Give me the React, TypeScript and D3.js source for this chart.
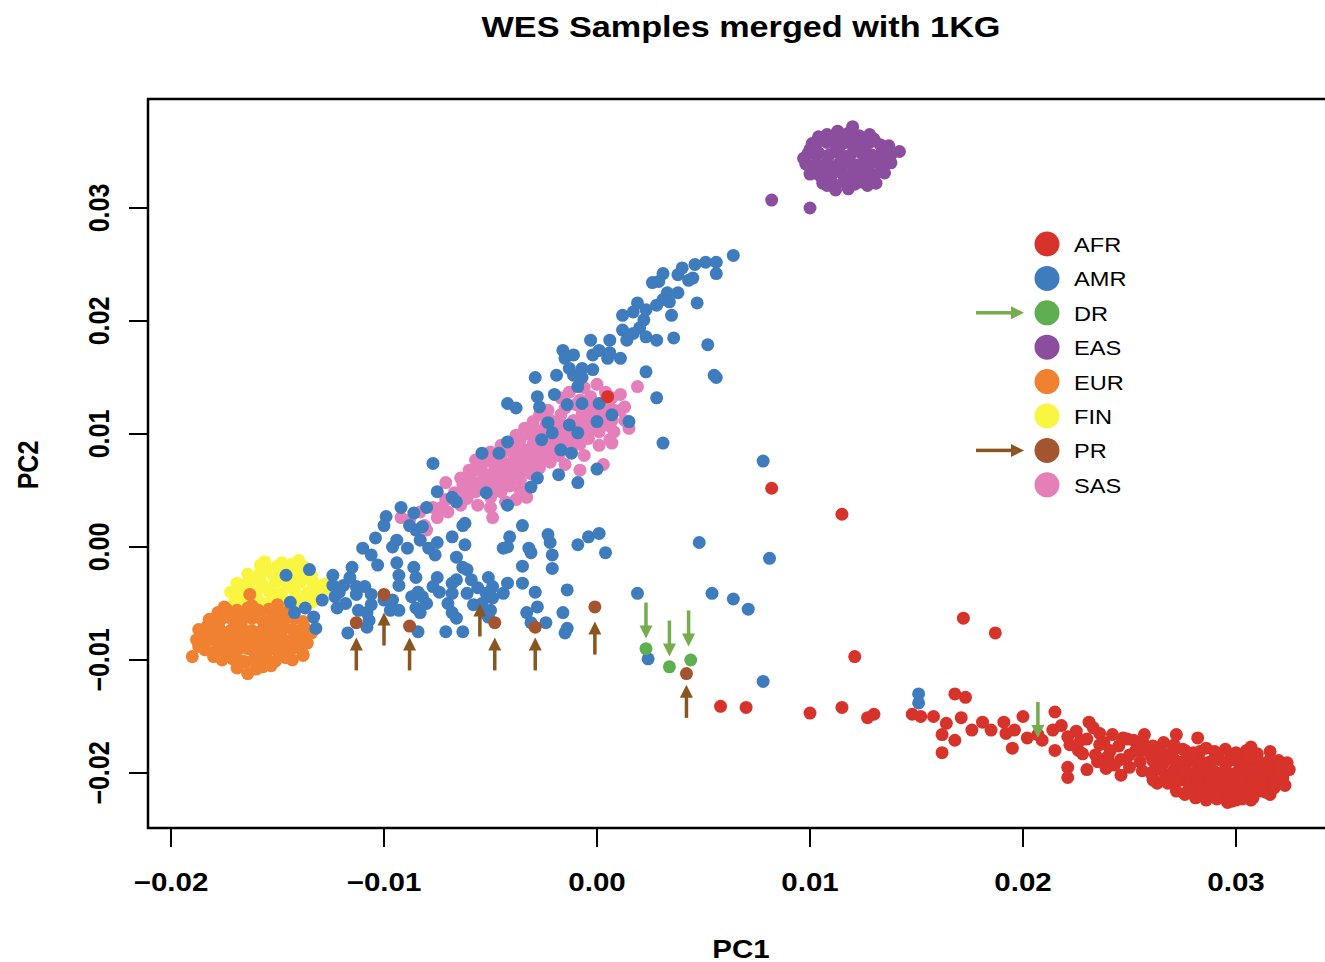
import React from "react"
import * as d3 from "d3"

// PC1 / PC2 coordinates, in units of 1e-3
const EAS = [
  [11.7, 34.4], [11.2, 35.0], [12.2, 33.8], [10.8, 34.0], [12.7, 34.8], [11.5, 35.7], [12.0, 33.1],
  [10.3, 34.6], [13.1, 34.1], [11.1, 33.3], [12.5, 35.6], [10.0, 35.2], [13.4, 35.0], [10.9, 36.2],
  [11.8, 36.6], [9.9, 33.8], [12.9, 33.0], [11.6, 32.5], [10.5, 32.8], [12.4, 32.3], [9.7, 34.4],
  [13.6, 34.3], [11.3, 36.8], [12.0, 37.2], [13.0, 36.1], [10.1, 35.7], [10.8, 32.0], [11.8, 31.7],
  [12.7, 32.0], [13.4, 33.3], [10.4, 36.3], [12.3, 36.3], [13.7, 35.5], [11.2, 31.6], [12.1, 35.2],
  [11.4, 34.0], [10.6, 33.4], [12.6, 34.3], [11.9, 36.0], [10.2, 33.1],
  [10.6, 32.2], [11.1, 32.1], [11.6, 32.3], [12.1, 32.1], [12.6, 32.3], [13.1, 32.2],
  [10.0, 33.0], [10.5, 33.1], [11.0, 32.9], [11.5, 33.1], [12.0, 32.9], [12.5, 33.1], [13.0, 32.9], [13.5, 33.1],
  [9.8, 33.9], [10.3, 33.8], [10.8, 34.0], [11.3, 33.8], [11.8, 34.0], [12.3, 33.8], [12.8, 34.0], [13.3, 33.8],
  [13.8, 34.0], [9.9, 34.8], [10.4, 34.9], [10.9, 34.7], [11.4, 34.9], [11.9, 34.7], [12.4, 34.9], [12.9, 34.7],
  [13.4, 34.9], [13.8, 34.7], [10.3, 35.7], [10.8, 35.8], [11.3, 35.6], [11.8, 35.8], [12.3, 35.6], [12.8, 35.8],
  [13.3, 35.6], [10.8, 36.5], [11.3, 36.4], [11.8, 36.6], [12.3, 36.4], [12.8, 36.5],
  [14.2, 35.0], [8.2, 30.7], [10.0, 30.0],
]

const FIN = [
  [-14.7, -3.0], [-15.2, -2.5], [-14.2, -3.8], [-15.7, -3.5], [-13.8, -2.8], [-15.0, -4.2], [-14.5, -2.0],
  [-16.0, -2.8], [-13.5, -4.0], [-15.5, -1.8], [-16.2, -4.0], [-14.0, -4.8], [-14.8, -1.4], [-13.3, -3.3],
  [-16.5, -3.3], [-15.3, -4.8], [-14.3, -2.5], [-17.0, -4.0], [-13.7, -1.8], [-13.1, -4.5], [-15.8, -2.2],
  [-14.5, -5.0], [-16.7, -4.6], [-14.0, -1.2], [-12.8, -3.8], [-15.6, -1.3],
  [-15.8, -1.6], [-15.0, -1.7], [-14.3, -1.5], [-16.4, -2.4], [-15.8, -2.5], [-15.2, -2.3], [-14.6, -2.5],
  [-14.0, -2.3], [-13.4, -2.5], [-16.9, -3.2], [-16.3, -3.1], [-15.7, -3.3], [-15.1, -3.1], [-14.5, -3.3],
  [-13.9, -3.1], [-13.3, -3.2], [-12.8, -3.3], [-17.2, -4.0], [-16.6, -3.9], [-16.0, -4.1], [-15.4, -3.9],
  [-14.8, -4.1], [-14.2, -3.9], [-13.6, -4.1], [-13.0, -3.9], [-17.0, -4.8], [-16.4, -4.7], [-15.8, -4.9],
  [-15.2, -4.7], [-14.6, -4.9], [-14.0, -4.7], [-13.4, -4.9],
]

const EUR = [
  [-16.5, -7.5], [-17.0, -7.0], [-16.0, -8.0], [-17.5, -7.8], [-15.5, -7.0], [-16.8, -8.5], [-15.8, -6.3],
  [-18.0, -7.2], [-15.0, -7.8], [-17.2, -6.2], [-16.2, -9.0], [-17.8, -8.5], [-14.8, -6.8], [-18.5, -7.8],
  [-16.6, -5.8], [-15.3, -8.8], [-17.5, -9.2], [-14.5, -8.3], [-18.2, -6.5], [-16.0, -9.6], [-17.0, -9.5],
  [-15.7, -7.5], [-16.7, -6.8], [-17.3, -8.0], [-16.3, -8.2], [-14.3, -7.3], [-14.0, -8.8], [-14.7, -9.5],
  [-15.2, -6.0], [-17.8, -5.8], [-18.7, -8.8], [-18.0, -9.7], [-16.5, -10.2], [-15.5, -10.0], [-14.0, -7.8],
  [-13.8, -9.5], [-17.5, -5.3], [-16.2, -5.2], [-14.3, -10.0], [-16.9, -8.8], [-15.8, -8.5], [-15.0, -9.2],
  [-18.3, -7.0], [-14.5, -6.2],
  [-17.4, -5.5], [-16.9, -5.6], [-16.4, -5.4], [-15.9, -5.6], [-15.4, -5.5], [-14.9, -5.7], [-14.4, -5.5],
  [-18.2, -6.4], [-17.7, -6.5], [-17.2, -6.3], [-16.7, -6.5], [-16.2, -6.3], [-15.7, -6.5], [-15.2, -6.4],
  [-14.7, -6.5], [-14.2, -6.3], [-13.8, -6.6], [-18.7, -7.3], [-18.2, -7.5], [-17.7, -7.3], [-17.2, -7.4],
  [-16.7, -7.2], [-16.2, -7.4], [-15.7, -7.3], [-15.2, -7.4], [-14.7, -7.2], [-14.2, -7.4], [-13.7, -7.2],
  [-18.8, -8.2], [-18.3, -8.3], [-17.8, -8.1], [-17.3, -8.3], [-16.8, -8.1], [-16.3, -8.3], [-15.8, -8.1],
  [-15.3, -8.2], [-14.8, -8.1], [-14.3, -8.3], [-13.8, -8.1], [-18.4, -9.1], [-17.9, -9.2], [-17.4, -9.0],
  [-16.9, -9.2], [-16.4, -9.0], [-15.9, -9.2], [-15.4, -9.1], [-14.9, -9.0], [-14.4, -9.2], [-13.9, -9.0],
  [-17.6, -10.0], [-17.1, -9.9], [-16.6, -10.1], [-16.1, -9.9], [-15.6, -10.0], [-15.1, -10.1], [-14.6, -9.8],
  [-16.9, -10.7], [-16.0, -10.8], [-15.7, -10.6],
  [-19.0, -9.7], [-16.4, -11.2], [-15.3, -10.5], [-16.3, -4.2], [-15.0, -5.1], [-13.6, -8.5],
  [-13.8, -9.6], [-13.4, -7.6],
]

const SAS = [
  [-8.8, 2.4], [-8.3, 3.1], [-8.1, 1.9], [-7.7, 3.5], [-7.5, 2.6], [-7.1, 4.2], [-7.0, 3.1], [-6.7, 4.8],
  [-6.4, 3.7], [-6.2, 5.2], [-6.1, 4.3], [-5.9, 5.9], [-5.7, 4.9], [-5.6, 3.7], [-5.3, 6.5], [-5.2, 5.5],
  [-5.0, 4.4], [-4.8, 7.0], [-4.7, 5.9], [-4.5, 4.9], [-4.4, 7.5], [-4.2, 6.5], [-4.1, 5.4], [-3.9, 8.1],
  [-3.8, 7.0], [-3.6, 5.9], [-3.4, 8.6], [-3.3, 7.5], [-3.1, 6.5], [-3.0, 9.1], [-2.8, 8.1], [-2.7, 7.0],
  [-2.5, 9.6], [-2.3, 8.6], [-2.2, 7.5], [-2.1, 10.2], [-1.9, 9.1], [-1.8, 8.1], [-1.6, 10.7], [-1.5, 9.6],
  [-1.3, 8.6], [-1.1, 11.2], [-1.0, 10.2], [-0.8, 9.1], [-0.7, 11.8], [-0.5, 10.7], [-0.4, 9.6], [-0.2, 12.3],
  [-0.1, 11.2], [0.1, 10.2], [0.3, 12.8], [0.4, 11.8], [0.6, 10.7], [0.7, 13.2], [0.8, 12.1], [-0.3, 13.3],
  [-1.0, 12.6], [-1.7, 11.7], [-2.4, 10.8], [-3.1, 9.9], [-3.8, 9.0], [-4.5, 8.1], [-5.3, 7.5], [-6.0, 6.8],
  [0.7, 11.2], [0.1, 9.0], [-0.6, 8.1], [-1.5, 7.3], [-3.6, 5.0], [-4.3, 4.0], [-5.0, 3.5], [-4.5, 9.0],
  [-3.8, 9.9], [-3.0, 11.1], [-2.3, 12.1], [-1.7, 13.2], [-1.3, 13.7], [-0.6, 14.1], [0.0, 14.4], [0.4, 13.7],
  [-2.7, 11.7], [-3.4, 10.5], [-5.0, 8.4], [-5.7, 7.7], [-6.4, 6.1], [1.1, 13.5],
  [-7.3, 3.5], [-6.8, 4.3], [-6.3, 4.4], [-5.9, 5.0], [-5.5, 5.7], [-5.1, 6.3], [-4.9, 5.2], [-4.6, 6.8],
  [-4.5, 5.8], [-4.1, 7.3], [-4.0, 6.3], [-3.7, 7.9], [-3.5, 6.8], [-3.2, 8.4], [-3.1, 7.3], [-2.8, 8.9],
  [-2.6, 7.9], [-2.3, 9.5], [-2.1, 8.4], [-1.8, 10.0], [-1.6, 8.9], [-1.4, 10.5], [-1.2, 9.5], [-0.9, 11.1],
  [-0.7, 10.0], [-0.4, 11.6], [-0.2, 10.5], [0.0, 12.1], [0.2, 11.1], [0.5, 12.7], [-0.8, 13.0], [-1.5, 12.3],
  [-2.2, 11.2], [-2.9, 10.4], [-3.6, 9.5], [-4.3, 8.6], [-4.9, 7.7], [-5.6, 6.8], [-6.3, 5.5], [1.1, 12.1],
  [1.3, 11.2], [-1.9, 10.8], [-2.5, 10.2],
  [1.9, 14.2], [1.5, 10.5], [1.3, 12.4], [0.8, 10.2], [0.6, 9.5], [0.3, 7.3], [-0.8, 6.8], [-4.9, 2.6],
  [-9.2, 2.6], [-3.3, 4.4], [-3.8, 4.2], [-7.1, 5.7], [-8.0, 1.5], [0.7, 9.2],
]

const AMR = [
  [6.4, 25.8], [5.6, 25.2], [5.1, 25.2], [4.6, 25.0], [4.0, 24.7], [3.8, 24.1], [4.3, 23.6], [5.6, 24.2],
  [4.5, 23.8], [3.1, 24.2], [2.9, 23.5], [2.6, 23.4], [3.3, 22.5], [3.1, 21.9], [2.8, 21.4], [3.4, 21.7],
  [3.8, 22.5], [4.7, 21.6], [3.5, 20.5], [2.3, 21.0], [1.9, 21.6], [1.7, 20.8], [1.2, 20.5], [2.2, 20.1],
  [2.0, 19.4], [2.3, 18.6], [1.7, 18.9], [1.2, 19.2], [1.4, 18.3], [2.8, 18.3], [3.6, 18.5], [5.2, 17.9],
  [0.6, 18.3], [-0.3, 18.3], [0.1, 17.4], [0.6, 17.2], [-0.2, 17.0], [0.5, 16.7], [1.1, 16.7], [-1.6, 17.4],
  [-1.1, 17.0], [-1.5, 16.7], [-1.3, 15.8], [-0.7, 15.8], [-0.2, 15.7], [-1.9, 15.2], [-1.1, 15.2], [-0.7, 15.0],
  [-0.9, 14.2], [2.3, 15.5], [5.5, 15.2], [5.6, 15.0], [-2.9, 15.0], [-2.0, 13.5], [-2.8, 13.3], [-2.7, 12.4],
  [-4.2, 12.7], [-3.8, 12.3], [2.8, 13.2], [3.1, 9.2],
  [-2.3, 11.0], [-2.1, 10.1], [-1.3, 10.8], [-0.9, 10.1], [0.0, 11.1], [1.5, 11.1], [0.7, 11.7], [-1.4, 12.6],
  [-0.7, 12.7], [0.1, 12.7], [-1.2, 8.3], [-1.7, 8.6], [0.0, 6.9], [-0.9, 5.7], [-1.8, 6.4], [-2.6, 9.5],
  [-2.8, 6.1], [-3.1, 5.3], [-4.2, 3.7], [-5.4, 8.3], [-7.7, 7.4], [-9.2, 3.5], [-8.0, 3.5], [-7.5, 4.9],
  [-8.6, 3.0], [-9.9, 2.7], [-6.2, 2.1], [-3.5, 1.9], [-4.2, 9.3], [-6.6, 4.0], [-5.2, 4.8], [-4.6, 8.3],
  [7.8, 7.6], [8.1, -1.0], [4.8, 0.4], [1.9, -4.1], [5.4, -4.1], [6.4, -4.6], [7.1, -5.5], [2.4, -9.9],
  [7.8, -11.9], [15.1, -13.0], [15.1, -13.8],
  [-10.0, 1.9], [-11.0, -0.1], [-10.4, 0.8], [-10.6, -0.7], [-10.3, -1.6], [-9.4, 0.6], [-9.6, 0.0], [-8.9, -0.1],
  [-8.3, 0.6], [-7.9, -0.1], [-7.5, 0.4], [-7.6, -0.7], [-8.5, 1.5], [-8.8, 1.9], [-8.2, 1.8], [-6.8, 0.9],
  [-6.6, -0.9], [-6.2, 0.2], [-6.3, 1.9], [-6.8, 4.4],
  [-11.5, -1.8], [-12.4, -2.5], [-12.4, -3.4], [-11.9, -3.4], [-11.6, -2.7], [-12.9, -4.7], [-12.3, -4.4],
  [-12.2, -5.4], [-11.8, -5.0], [-11.3, -3.5], [-10.9, -3.5], [-10.6, -4.2], [-11.2, -5.6], [-10.8, -5.8],
  [-10.6, -5.1], [-10.0, -4.7], [-9.6, -4.7], [-9.3, -5.6], [-9.7, -5.6], [-10.8, -7.1], [-11.7, -7.6],
  [-9.4, -1.4], [-9.3, -2.5], [-9.3, -3.4], [-8.6, -1.8], [-8.5, -2.7], [-8.4, -4.0], [-8.7, -4.4], [-8.2, -4.4],
  [-7.7, -3.5], [-8.0, -5.0], [-8.5, -5.4], [-8.3, -5.8], [-7.5, -2.7], [-7.4, -4.0], [-7.0, -5.0], [-6.6, -2.9],
  [-6.8, -4.1], [-6.3, -1.8], [-6.1, -2.0], [-6.1, -4.1], [-5.9, -2.9], [-5.6, -3.6], [-5.8, -5.1], [-6.8, -5.8],
  [-6.6, -6.3], [-8.4, -7.5], [-7.1, -7.5], [-6.3, -7.5],
  [-5.1, -2.7], [-4.9, -3.5], [-5.2, -4.1], [-4.9, -4.5], [-5.0, -5.6], [-4.4, -4.1], [-4.2, -3.2], [-5.4, -5.0],
  [-5.3, -5.8],
  [-3.5, -1.7], [-3.5, -3.2], [-3.1, -0.5], [-3.2, -0.1], [-4.2, 0.0], [-4.4, -0.1], [-4.1, 0.9], [-2.9, -4.0],
  [-2.8, -5.3], [-3.3, -5.8], [-3.1, -6.7], [-2.4, -6.7], [-1.6, -5.8], [-1.4, -3.8], [-1.5, -7.6], [-1.4, -7.2],
  [-2.3, 1.1], [-2.2, 0.4], [-2.1, -0.7], [-2.1, -1.9], [-0.9, 0.2], [-0.4, 0.9], [0.1, 1.2], [0.4, -0.5],
  [-14.6, -2.5], [-13.5, -2.0], [-14.4, -4.9], [-14.2, -5.8], [-13.3, -6.2], [-13.2, -7.2], [-13.7, -5.4],
  [-12.1, -4.0], [-11.3, -4.2], [-10.7, -6.5], [-6.8, -3.2], [-5.1, -6.2],
]

const AFR = [
  [0.5, 13.3], [8.2, 5.2], [11.5, 2.9], [17.2, -6.3], [18.7, -7.6], [12.1, -9.7],
  [5.8, -14.1], [7.0, -14.2], [10.0, -14.7], [11.5, -14.2], [12.7, -15.1], [13.0, -14.8], [14.8, -14.8],
  [15.2, -15.0], [15.8, -15.0], [16.4, -15.6], [16.2, -16.6], [16.2, -18.2], [16.8, -13.0], [17.3, -13.3],
  [17.1, -15.1], [17.6, -16.2], [18.1, -15.5], [18.5, -16.2], [16.8, -17.1],
  [19.1, -15.5], [19.2, -16.5], [19.6, -16.2], [20.0, -15.0], [19.5, -17.8], [20.2, -16.9], [20.7, -16.6],
  [20.9, -17.1], [21.5, -14.6], [21.4, -16.2], [21.8, -15.8], [22.1, -16.8], [21.5, -18.0], [22.1, -19.5],
  [22.1, -20.4], [22.6, -18.0], [23.1, -15.5], [23.0, -19.7], [23.6, -16.5], [23.8, -18.8], [23.9, -19.6],
  [24.6, -20.2], [24.7, -16.9], [25.2, -17.1], [25.6, -18.0], [26.1, -20.6], [26.3, -20.9], [26.6, -17.3],
  [27.2, -16.6], [27.6, -21.9], [28.2, -16.9], [29.6, -22.6], [30.7, -17.7], [31.6, -18.1], [32.4, -19.1],
  [32.2, -20.4], [31.7, -21.1],
  [22.5, -16.3], [23.0, -17.0], [23.3, -16.0], [23.8, -17.3], [24.2, -16.6], [24.5, -17.6], [24.9, -17.0],
  [25.3, -18.0], [25.7, -16.6], [26.1, -17.6], [26.5, -18.2], [25.0, -19.5], [24.0, -18.5], [22.8, -18.3],
  [23.5, -19.0],
  [26.0, -18.4], [26.4, -19.0], [26.9, -18.7], [27.1, -19.7], [27.6, -19.3], [27.8, -20.2], [28.1, -18.7],
  [28.3, -19.6], [28.5, -20.6], [28.8, -19.0], [29.0, -19.9], [29.2, -21.1], [29.5, -19.6], [29.7, -20.4],
  [30.0, -21.5], [30.2, -19.7], [30.4, -20.8], [30.7, -19.0], [30.9, -20.2], [31.1, -21.3], [31.4, -19.7],
  [31.6, -20.6], [31.8, -19.3], [32.1, -19.9], [28.3, -21.5], [28.8, -21.9], [27.8, -21.3], [27.4, -20.6],
  [26.7, -20.2], [25.5, -19.0], [25.0, -18.4], [24.6, -18.8], [24.1, -18.0], [23.6, -17.5], [30.4, -21.9],
  [29.7, -18.8], [29.0, -18.1], [27.6, -18.0], [30.9, -18.4], [31.6, -21.9], [32.3, -21.1], [29.5, -22.2],
  [28.3, -18.1], [27.1, -17.5], [30.2, -18.7], [31.1, -19.3], [30.0, -22.4], [29.0, -21.5], [28.1, -22.2],
  [32.5, -19.7], [26.2, -19.7], [25.7, -17.5], [24.3, -19.3], [23.4, -18.4], [22.7, -17.1], [22.2, -17.5],
  [30.7, -22.4], [29.2, -18.8], [28.5, -19.7], [27.8, -18.8], [29.7, -21.3], [31.4, -21.7], [31.8, -21.3],
  [27.0, -18.1], [27.5, -17.9], [28.0, -18.2], [28.6, -17.8], [29.1, -18.3], [29.5, -17.9], [30.0, -18.2],
  [30.5, -18.0], [31.0, -18.3], [26.1, -18.9], [26.6, -19.1], [27.1, -18.8], [27.5, -19.0], [28.0, -18.9],
  [28.5, -19.1], [29.0, -18.8], [29.6, -19.0], [30.0, -18.9], [30.5, -19.1], [31.0, -18.8], [31.5, -19.0],
  [32.0, -18.9], [25.6, -19.8], [26.0, -20.0], [26.5, -19.7], [27.0, -20.0], [27.5, -19.8], [28.0, -20.0],
  [28.6, -19.8], [29.0, -20.1], [29.5, -19.8], [30.0, -20.0], [30.6, -19.9], [31.0, -20.1], [31.5, -19.8],
  [32.0, -20.0], [32.4, -19.6], [26.2, -20.7], [26.8, -20.9], [27.2, -20.7], [27.8, -20.8], [28.2, -20.6],
  [28.8, -20.9], [29.3, -20.7], [29.8, -20.9], [30.2, -20.6], [30.8, -20.9], [31.2, -20.7], [31.8, -20.8],
  [32.0, -20.5], [27.2, -21.6], [27.7, -21.7], [28.2, -21.5], [28.7, -21.7], [29.2, -21.5], [29.7, -21.7],
  [30.2, -21.6], [30.7, -21.5], [31.2, -21.6], [28.6, -22.4], [29.1, -22.3], [29.8, -22.5], [30.3, -22.3],
  [30.8, -22.2],
]

const DR = [[2.3, -9.0], [3.4, -10.6], [4.4, -10.0]]
const PR = [[4.2, -11.2], [-11.3, -6.7], [-10.0, -4.2], [-8.8, -7.0], [-4.8, -6.7], [-2.9, -7.1], [-0.1, -5.3]]

// arrow tips marking the study samples
const PR_ARROWS = [[-11.3, -8.0], [-10.0, -5.8], [-8.8, -8.0], [-5.5, -5.0], [-4.8, -8.0], [-2.9, -8.0], [-0.1, -6.6], [4.2, -12.2]]
const DR_ARROWS = [[2.3, -8.1], [3.4, -9.7], [4.3, -8.8], [20.7, -16.9]]

const X_TICKS = [-20, -10, 0, 10, 20, 30]
const Y_TICKS = [-20, -10, 0, 10, 20, 30]

const COLORS = {
  AFR: "#d7332a",
  AMR: "#3f7cbe",
  DR: "#5fae51",
  EAS: "#8b4e9f",
  EUR: "#ef8130",
  FIN: "#f9f540",
  PR: "#a2552e",
  SAS: "#e57fba",
}
const LEGEND = ["AFR", "AMR", "DR", "EAS", "EUR", "FIN", "PR", "SAS"]
const BROWN = "#8a561f"
const GREEN = "#76ac4c"

// draw order as in the figure
const LAYERS = [
  { name: "FIN", data: FIN },
  { name: "EUR", data: EUR },
  { name: "SAS", data: SAS },
  { name: "AMR", data: AMR },
  { name: "EAS", data: EAS },
  { name: "AFR", data: AFR },
  { name: "DR", data: DR },
  { name: "PR", data: PR },
]

const W = 1325
const H = 962
const SX = 1.18 // the figure text is stretched horizontally
const FONT = "'Liberation Sans', Arial, Helvetica, sans-serif"

const fmt = (v: number) => (v < 0 ? "\u2212" : "") + Math.abs(v / 1000).toFixed(2)

const Arrow = ({ x, y, dir, len, color }: any) => {
  // dir: "up" (tip at top), "down", "right"
  const hw = 6.5
  const hl = 13
  const sw = 3.5
  if (dir === "right") {
    return (
      <g fill={color}>
        <rect x={x - len} y={y - sw / 2} width={len - hl + 1} height={sw} />
        <polygon points={`${x},${y} ${x - hl},${y - hw} ${x - hl},${y + hw}`} />
      </g>
    )
  }
  const s = dir === "up" ? 1 : -1
  return (
    <g fill={color}>
      <rect x={x - sw / 2} y={s > 0 ? y + hl - 1 : y - len} width={sw} height={len - hl + 1} />
      <polygon points={`${x},${y} ${x - hw},${y + s * hl} ${x + hw},${y + s * hl}`} />
    </g>
  )
}

export default function App() {
  const x = d3.scaleLinear().domain([-20, 30]).range([171, 1236])
  const y = d3.scaleLinear().domain([-20, 30]).range([773, 208])
  const left = 148
  const top = 99
  const bottom = 828
  const right = 1345

  return (
    <svg
      width={W}
      height={H}
      style={{ position: "absolute", left: 0, top: 0, background: "#fff" }}
      fontFamily={FONT}
    >
      <rect width={W} height={H} fill="#fff" />
      <text
        transform={`translate(741,37) scale(${SX},1)`}
        textAnchor="middle"
        fontSize={29}
        fontWeight="bold"
      >
        WES Samples merged with 1KG
      </text>

      <g>
        {LAYERS.map(layer =>
          layer.data.map((d, i) => (
            <circle
              key={layer.name + i}
              cx={x(d[0])}
              cy={y(d[1])}
              r={6.5}
              fill={COLORS[layer.name]}
            />
          ))
        )}
      </g>

      {PR_ARROWS.map((d, i) => (
        <Arrow key={"pa" + i} x={x(d[0])} y={y(d[1])} dir="up" len={33} color={BROWN} />
      ))}
      {DR_ARROWS.map((d, i) => (
        <Arrow key={"da" + i} x={x(d[0])} y={y(d[1])} dir="down" len={36} color={GREEN} />
      ))}

      {/* frame */}
      <path
        d={`M${right},${top}H${left}V${bottom}H${right}`}
        fill="none"
        stroke="#000"
        strokeWidth={2.5}
      />

      {/* x axis */}
      {X_TICKS.map(t => (
        <g key={"xt" + t}>
          <line x1={x(t)} x2={x(t)} y1={bottom} y2={bottom + 19} stroke="#000" strokeWidth={2} />
          <text
            transform={`translate(${x(t)},891) scale(${SX},1)`}
            textAnchor="middle"
            fontSize={25}
            fontWeight="bold"
          >
            {fmt(t)}
          </text>
        </g>
      ))}
      <text
        transform={`translate(741,958) scale(${SX},1)`}
        textAnchor="middle"
        fontSize={25}
        fontWeight="bold"
      >
        PC1
      </text>

      {/* y axis */}
      {Y_TICKS.map(t => (
        <g key={"yt" + t}>
          <line x1={left - 19} x2={left} y1={y(t)} y2={y(t)} stroke="#000" strokeWidth={2} />
          <text
            transform={`translate(109,${y(t)}) scale(${SX},1) rotate(-90)`}
            textAnchor="middle"
            fontSize={25}
            fontWeight="bold"
          >
            {fmt(t)}
          </text>
        </g>
      ))}
      <text
        transform={`translate(38,465) scale(${SX},1) rotate(-90)`}
        textAnchor="middle"
        fontSize={25}
        fontWeight="bold"
      >
        PC2
      </text>

      {/* legend */}
      {LEGEND.map((name, i) => {
        const cy = 244 + i * 34.4
        return (
          <g key={name}>
            <circle cx={1047} cy={cy} r={12.5} fill={COLORS[name]} />
            <text
              transform={`translate(1074,${cy + 8}) scale(${SX},1)`}
              fontSize={20}
            >
              {name}
            </text>
            {name === "DR" && <Arrow x={1024} y={cy} dir="right" len={48} color={GREEN} />}
            {name === "PR" && <Arrow x={1024} y={cy} dir="right" len={48} color={BROWN} />}
          </g>
        )
      })}
    </svg>
  )
}
